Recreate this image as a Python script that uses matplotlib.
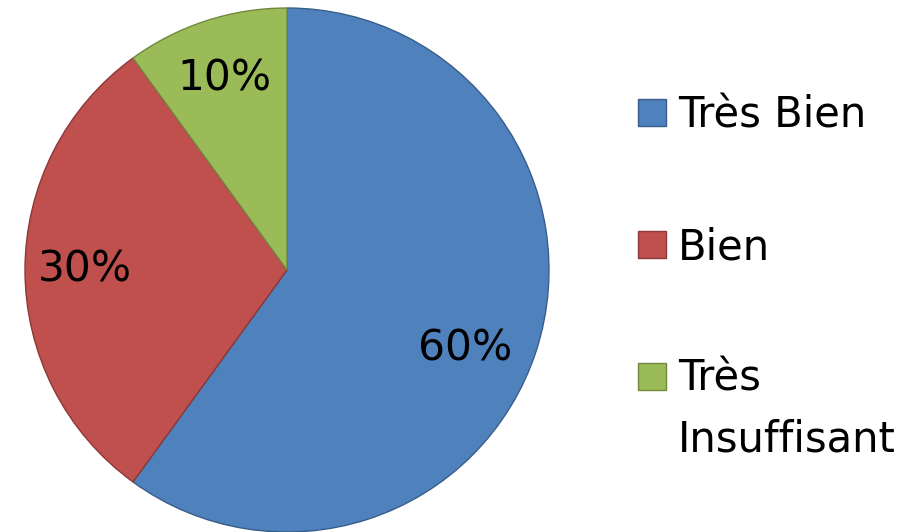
import matplotlib
matplotlib.use("Agg")
from matplotlib import pyplot as plt
from matplotlib.patches import Rectangle

labels = ["Très Bien", "Bien", "Très\nInsuffisant"]
values = [60, 30, 10]
colors = ["#4F81BD", "#C0504D", "#9BBB59"]
edges = ["#385D8A", "#8C3836", "#71893F"]

plt.rcParams['font.family'] = ['DejaVu Sans']

W, H = 914, 532
fig = plt.figure(figsize=(W / 100, H / 100), dpi=100)
ax = fig.add_axes([25 / W, 0, 524 / W, 524 / H])

wedges, texts, autotexts = ax.pie(values, colors=colors, startangle=90, counterclock=False,
                                  radius=1, autopct='%1.0f%%', pctdistance=0.77,
                                  textprops={'fontsize': 30.5, 'color': 'black'})
for w, ec in zip(wedges, edges):
    w.set_edgecolor(ec)
    w.set_linewidth(1.0)
# excel puts the big slice label a bit lower
autotexts[0].set_position((0.68, -0.30))

ax.set_xlim(-1, 1)
ax.set_ylim(-1, 1)
ax.set_aspect('equal')
ax.axis('off')

# legend by hand so the square sits on the first line of a two-line label
first_base = 128
step = 132
line_gap = 60
for i, (lab, c, ec) in enumerate(zip(labels, colors, edges)):
    base = first_base + i * step
    cy = base - 16
    fig.patches.append(Rectangle((638 / W, 1 - (cy + 13.5) / H), 28 / W, 27 / H,
                                 facecolor=c, edgecolor=ec, linewidth=1.0,
                                 transform=fig.transFigure))
    # baseline alignment uses the last line, so push down by the extra lines
    last_base = base + lab.count("\n") * line_gap
    fig.text(678 / W, 1 - last_base / H, lab, fontsize=30, va='baseline', ha='left',
             linespacing=1.58)

fig.savefig("out.png", dpi=100)
